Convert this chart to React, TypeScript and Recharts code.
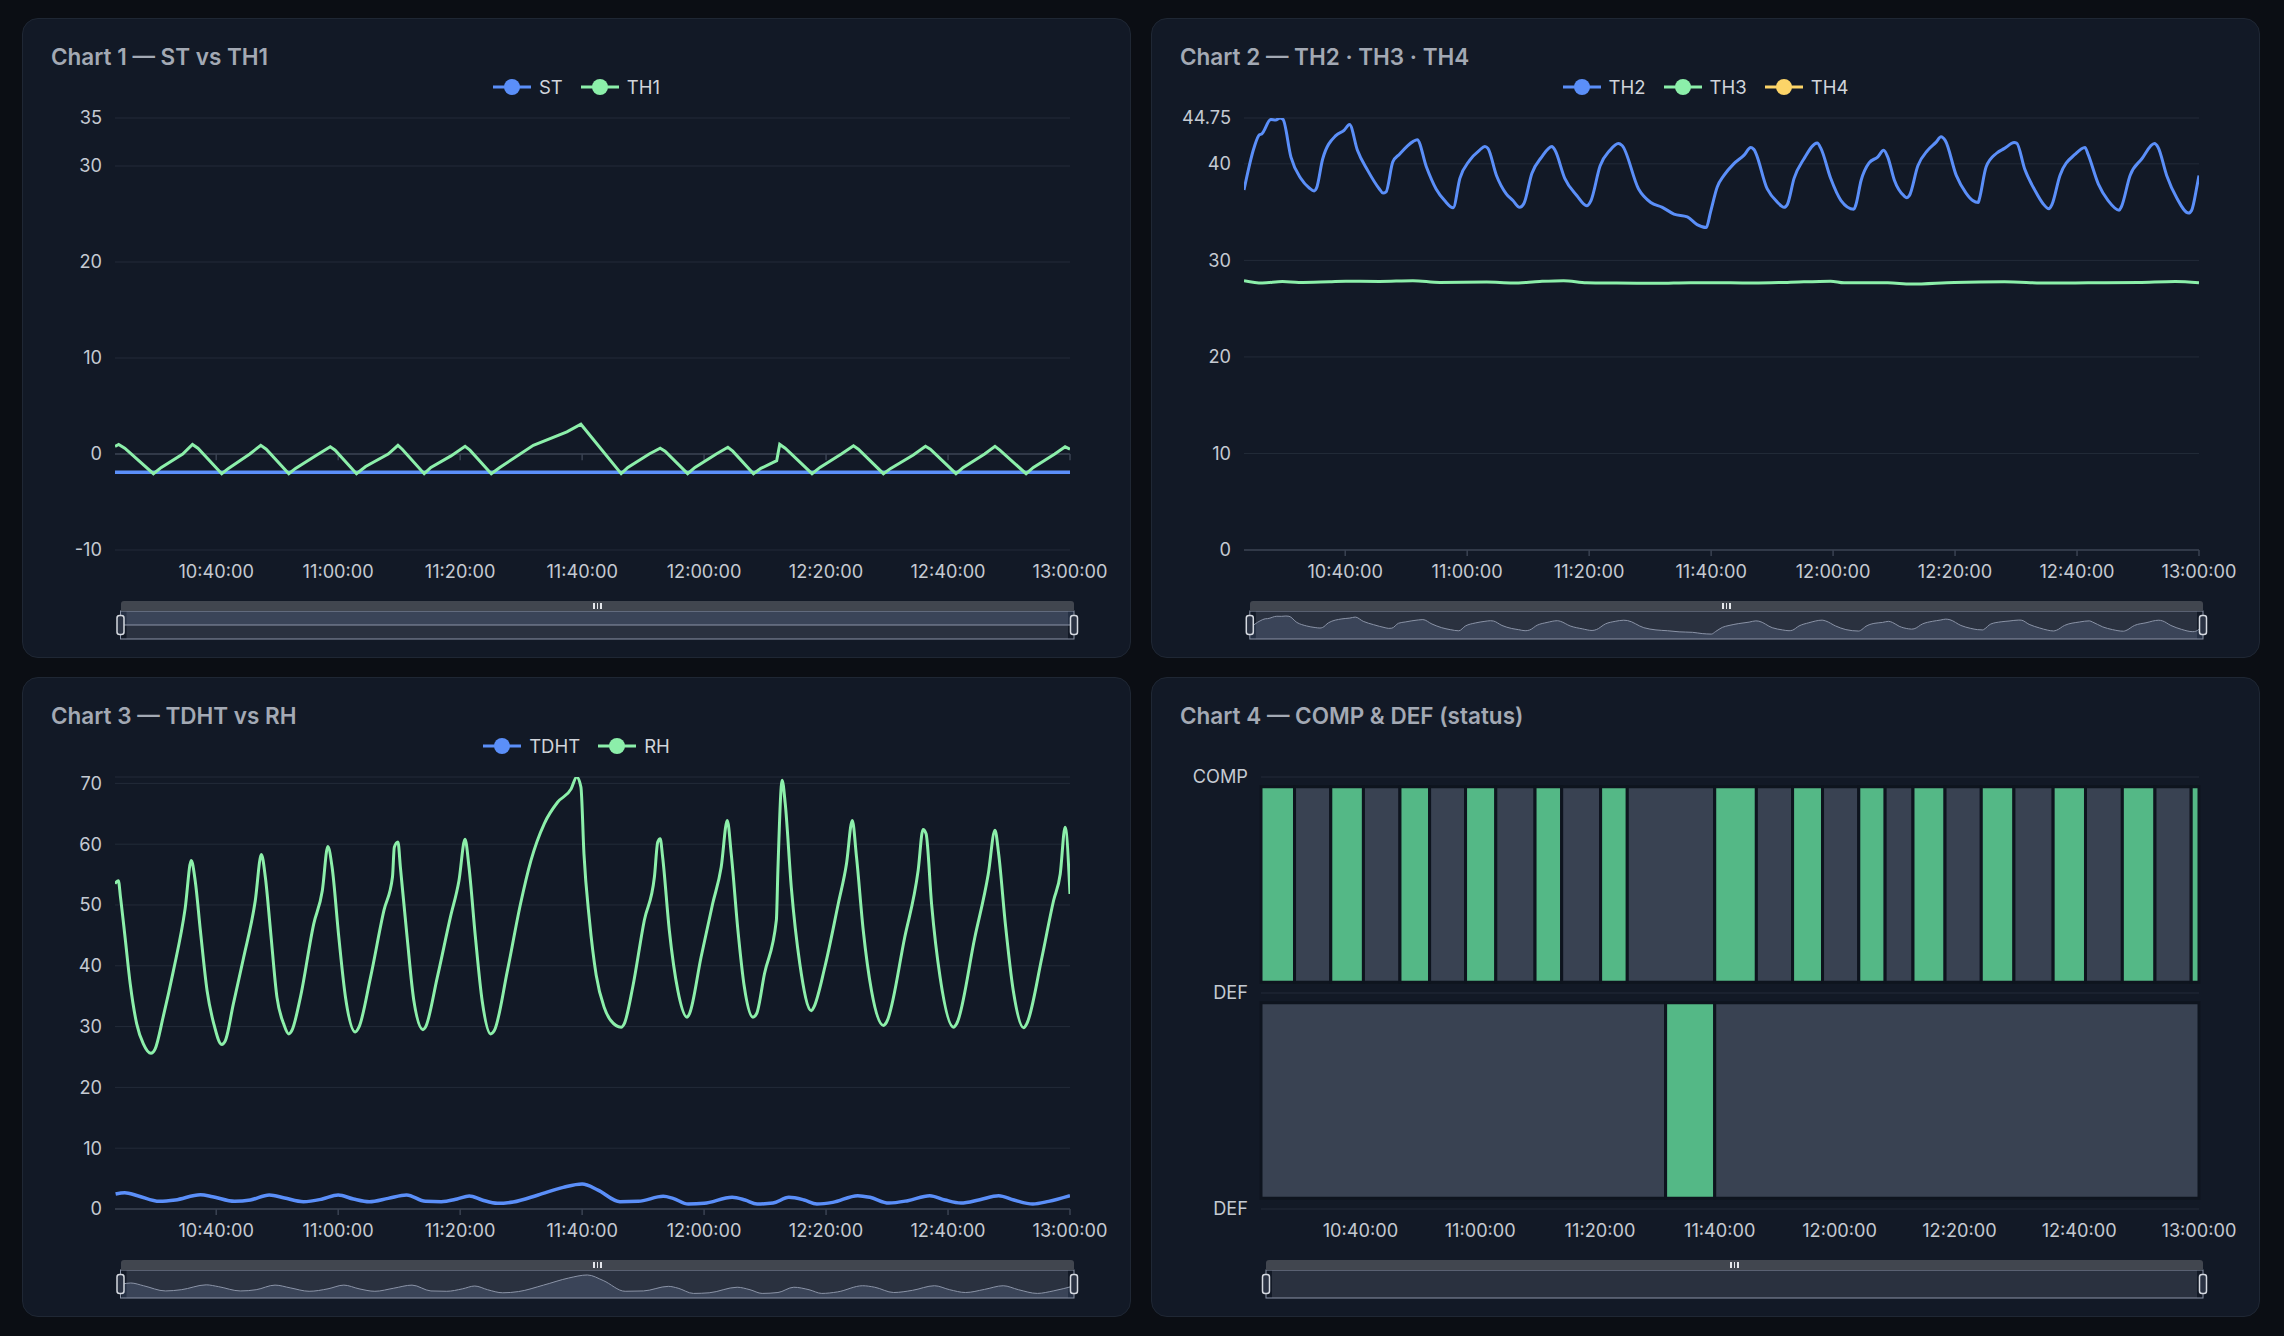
import React from 'react';
import {
  ComposedChart,
  Line,
  Area,
  XAxis,
  YAxis,
  CartesianGrid,
  Brush,
  ReferenceLine,
  ReferenceArea,
} from 'recharts';

// ---------- data (t = minutes after 10:00:00) ----------
const T_MIN = 23.4;
const T_MAX = 180;
const TIME_TICKS = [40, 60, 80, 100, 120, 140, 160, 180];

const CHART1_SERIES = ['ST', 'TH1'];
const CHART2_SERIES = ['TH2', 'TH3', 'TH4'];
const CHART3_SERIES = ['TDHT', 'RH'];

const ST_POINTS: [number, number][] = [
  [23.4, -1.9],
  [180, -1.9],
];

const TH1_POINTS: [number, number][] = [
  [23.4, 0.8], [24.0, 1.0], [25.0, 0.6], [29.7, -2.05], [31.0, -1.4], [34.5, 0.0], [36.1, 1.0],
  [37.0, 0.6], [40.9, -2.05], [42.0, -1.5], [45.5, 0.0], [47.3, 0.9], [48.2, 0.5], [51.9, -2.05],
  [53.0, -1.5], [56.5, -0.1], [58.7, 0.75], [59.5, 0.4], [63.0, -2.05], [64.5, -1.3], [68.2, 0.0],
  [69.8, 0.9], [70.5, 0.5], [74.1, -2.05], [75.2, -1.4], [78.5, -0.2], [80.8, 0.8], [81.6, 0.4],
  [85.1, -2.05], [86.5, -1.4], [92.0, 0.9], [97.5, 2.3], [99.8, 3.1], [106.4, -2.05], [107.5, -1.4],
  [111.0, 0.0], [112.8, 0.6], [113.6, 0.3], [117.3, -2.05], [118.5, -1.4], [122.0, 0.0], [123.9, 0.7],
  [124.7, 0.3], [128.1, -2.05], [129.3, -1.5], [131.9, -0.7], [132.4, 1.0], [133.3, 0.6], [137.7, -2.05],
  [139.0, -1.4], [142.5, 0.0], [144.5, 0.85], [145.3, 0.5], [149.4, -2.05], [150.6, -1.5], [154.3, -0.1],
  [156.3, 0.8], [157.1, 0.5], [161.3, -2.05], [162.5, -1.4], [166.0, 0.0], [167.7, 0.8], [168.5, 0.4],
  [172.8, -2.05], [174.0, -1.4], [177.5, 0.0], [179.2, 0.75], [180.0, 0.5],
];

const TH2_POINTS: [number, number][] = [
  [23.4, 37.3], [25.06, 41.7], [25.9, 43.0], [26.3, 43.1], [27.8, 44.6], [28.6, 44.55], [29.3, 44.75],
  [29.8, 44.6], [31.1, 40.7], [32.7, 38.5], [34.1, 37.5], [34.9, 37.2], [35.3, 37.5], [36.3, 40.5],
  [38.5, 42.95], [39.8, 43.46], [40.7, 44.08], [42.0, 41.4], [43.7, 39.3], [45.6, 37.4], [46.2, 36.97],
  [46.7, 37.1], [47.8, 40.2], [48.9, 41.0], [51.1, 42.3], [51.8, 42.5], [53.3, 39.7], [54.9, 37.4],
  [56.3, 36.2], [57.7, 35.45], [58.8, 38.5], [60.4, 40.36], [62.0, 41.4], [62.9, 41.8], [63.4, 41.6],
  [64.8, 38.8], [66.4, 36.9], [67.5, 36.2], [68.6, 35.5], [69.3, 35.9], [70.6, 39.0], [72.2, 40.7],
  [73.9, 41.8], [74.4, 41.4], [76.0, 38.5], [78.0, 36.7], [79.6, 35.66], [80.3, 36.2], [81.8, 39.8],
  [83.4, 41.4], [84.8, 42.1], [85.4, 41.9], [88.1, 37.4], [90.1, 36.0], [92.0, 35.5], [93.9, 34.8],
  [96.1, 34.5], [97.7, 33.7], [99.2, 33.4], [99.9, 35.0], [101.0, 37.6], [102.1, 38.8], [103.7, 40.0],
  [105.4, 40.9], [106.5, 41.7], [107.0, 41.5], [109.2, 37.4], [110.9, 36.0], [111.96, 35.5], [112.5, 35.8],
  [113.6, 38.5], [115.2, 40.5], [117.4, 42.15], [118.0, 41.6], [119.6, 38.5], [121.3, 36.2], [123.4, 35.3],
  [123.7, 35.7], [124.6, 38.3], [125.9, 40.1], [127.3, 40.7], [128.3, 41.4], [128.96, 40.7], [130.05, 38.3],
  [131.6, 36.7], [132.1, 36.5], [132.5, 36.7], [133.9, 39.8], [135.5, 41.4], [136.9, 42.25], [137.7, 42.8],
  [138.4, 42.4], [140.2, 38.8], [141.8, 36.97], [142.9, 36.2], [143.8, 36.0], [144.0, 36.4], [145.1, 39.7],
  [146.8, 41.1], [148.1, 41.6], [149.7, 42.2], [150.1, 42.15], [151.4, 39.5], [153.1, 37.25], [154.4, 35.9],
  [155.4, 35.35], [155.9, 35.8], [157.2, 38.8], [159.7, 41.0], [161.3, 41.7], [161.8, 41.0], [163.5, 37.9],
  [165.1, 36.2], [166.9, 35.2], [167.3, 35.6], [168.7, 38.8], [170.6, 40.5], [172.7, 42.1], [173.3, 41.7],
  [174.7, 38.8], [176.4, 36.4], [178.3, 34.9], [178.8, 35.2], [179.7, 37.8], [180.0, 38.8],
];

const TH3_POINTS: [number, number][] = [
  [23.4, 27.9], [26.4, 27.65], [29.7, 27.82], [32.4, 27.72], [37.4, 27.8], [40.1, 27.85], [45.6, 27.82],
  [51.1, 27.9], [55.5, 27.72], [63.2, 27.75], [67.5, 27.65], [71.9, 27.82], [75.8, 27.9], [79.6, 27.68],
  [84.5, 27.65], [91.1, 27.62], [96.6, 27.68], [103.2, 27.68], [107.0, 27.65], [112.5, 27.72], [119.6, 27.85],
  [121.8, 27.68], [128.96, 27.68], [132.8, 27.55], [139.9, 27.72], [148.1, 27.78], [155.3, 27.65],
  [161.8, 27.68], [170.1, 27.72], [176.1, 27.82], [180.0, 27.68],
];

const TH4_POINTS: [number, number][] = [];

const TDHT_POINTS: [number, number][] = [
  [23.5, 2.46], [25.0, 2.68], [27.1, 2.19], [30.7, 1.26], [33.3, 1.48], [37.4, 2.35], [39.4, 2.03],
  [43.0, 1.26], [45.6, 1.48], [48.7, 2.3], [51.2, 1.81], [54.3, 1.2], [57.4, 1.64], [60.0, 2.3],
  [62.5, 1.64], [65.1, 1.2], [68.2, 1.75], [71.2, 2.3], [74.3, 1.26], [76.9, 1.2], [79.5, 1.64],
  [81.5, 2.14], [83.6, 1.48], [86.1, 0.93], [88.7, 1.15], [92.8, 2.3], [96.9, 3.56], [100.0, 4.11],
  [102.6, 3.12], [106.2, 1.2], [109.2, 1.26], [113.3, 2.08], [114.9, 1.75], [117.4, 0.82], [120.0, 0.93],
  [124.6, 1.92], [126.7, 1.48], [128.7, 0.82], [131.3, 0.98], [133.9, 1.92], [136.4, 1.48], [138.5, 0.82],
  [141.1, 1.09], [145.2, 2.19], [147.2, 1.92], [150.3, 0.98], [153.4, 1.37], [157.0, 2.19], [159.5, 1.48],
  [162.1, 0.98], [165.2, 1.53], [168.3, 2.19], [170.8, 1.48], [173.9, 0.82], [176.5, 1.26], [180.0, 2.19],
];

const RH_POINTS: [number, number][] = [
  [23.4, 53.5], [23.95, 54.0], [24.3, 51.3], [25.05, 44.7], [25.9, 37.0], [26.96, 30.45], [28.05, 27.16],
  [29.3, 25.6], [29.97, 26.3], [31.3, 31.6], [32.98, 39.2], [34.9, 49.4], [35.9, 57.3], [36.55, 54.0],
  [37.4, 45.8], [38.5, 35.9], [39.6, 30.45], [40.9, 27.05], [41.5, 27.7], [42.8, 33.7], [44.5, 41.4],
  [46.4, 50.7], [47.4, 58.3], [48.05, 54.6], [48.9, 45.8], [49.96, 34.8], [51.06, 30.45], [51.9, 28.8],
  [52.4, 29.35], [53.8, 34.8], [55.99, 46.9], [57.4, 52.4], [58.3, 59.6], [59.0, 56.2], [60.1, 44.7],
  [61.2, 34.8], [62.8, 29.1], [63.4, 29.9], [65.3, 38.1], [67.5, 49.1], [68.9, 54.6], [69.2, 59.5],
  [69.8, 60.35], [70.2, 56.2], [71.3, 44.7], [72.4, 34.3], [73.9, 29.5], [74.3, 29.9], [76.25, 38.1],
  [78.4, 48.0], [79.8, 54.0], [80.8, 60.8], [81.45, 56.2], [82.5, 44.7], [83.6, 34.3], [85.0, 28.8],
  [85.6, 29.35], [87.75, 39.2], [89.9, 50.2], [91.6, 57.3], [93.8, 63.4], [95.97, 66.9], [98.2, 69.1],
  [99.1, 71.05], [99.8, 69.4], [100.3, 58.4], [101.2, 47.5], [102.3, 38.5], [103.6, 33.2], [104.7, 31.0],
  [106.4, 29.9], [106.9, 30.45], [108.3, 36.5], [110.2, 47.5], [111.85, 54.6], [112.4, 60.35], [112.8, 60.9],
  [113.2, 57.9], [114.3, 45.8], [115.7, 35.9], [117.2, 31.55], [117.6, 32.1], [119.5, 41.4], [121.4, 50.2],
  [122.8, 56.2], [123.8, 63.9], [124.45, 58.4], [125.55, 45.8], [126.6, 36.5], [128.0, 31.55], [128.6, 32.1],
  [129.9, 38.7], [131.85, 47.5], [132.1, 55.7], [132.8, 70.5], [133.3, 66.7], [134.3, 52.9], [135.7, 40.3],
  [137.6, 32.6], [138.0, 33.2], [139.8, 39.8], [142.0, 50.2], [143.35, 56.8], [144.3, 63.9], [144.99, 57.9],
  [146.1, 45.8], [147.45, 35.9], [149.4, 30.2], [149.9, 30.7], [152.9, 44.7], [155.1, 55.7], [155.9, 62.4],
  [156.4, 61.7], [157.3, 50.2], [158.7, 38.1], [160.9, 29.9], [161.4, 30.45], [164.4, 44.7], [166.6, 55.1],
  [167.7, 62.3], [168.3, 58.4], [169.4, 46.9], [170.7, 35.9], [172.4, 29.8], [172.9, 30.45], [175.4, 41.4],
  [177.3, 50.7], [178.4, 55.1], [179.2, 62.8], [180.0, 51.8],
];

// [start, end, state] state 1 = on (green), 0 = off (gray)
const COMP_SEGMENTS: [number, number, number][] = [
  [23.4, 29.0, 1], [29.0, 35.05, 0], [35.05, 40.5, 1], [40.5, 46.6, 0], [46.6, 51.55, 1], [51.55, 57.55, 0],
  [57.55, 62.6, 1], [62.6, 69.15, 0], [69.15, 73.6, 1], [73.6, 80.1, 0], [80.1, 84.55, 1], [84.55, 99.15, 0],
  [99.15, 106.1, 1], [106.1, 112.15, 0], [112.15, 117.15, 1], [117.15, 123.2, 0], [123.2, 127.6, 1],
  [127.6, 132.25, 0], [132.25, 137.6, 1], [137.6, 143.65, 0], [143.65, 149.1, 1], [149.1, 155.65, 0],
  [155.65, 161.05, 1], [161.05, 167.2, 0], [167.2, 172.65, 1], [172.65, 178.7, 0], [178.7, 180.0, 1],
];
const DEF_SEGMENTS: [number, number, number][] = [
  [23.4, 90.95, 0], [90.95, 99.15, 1], [99.15, 180.0, 0],
];

const Y1_TICKS = [-10, 0, 10, 20, 30, 35];
const Y2_TICKS = [0, 10, 20, 30, 40, 44.75];
const Y3_TICKS = [0, 10, 20, 30, 40, 50, 60, 70, 71.05];
const Y4_TICKS = [0, 1, 2];
const Y4_LABELS = ['DEF', 'DEF', 'COMP'];

// ---------- styling ----------
const BLUE = '#5b8ff9';
const GREEN = '#8cefaa';
const YELLOW = '#fcd468';
const ON_COLOR = '#54b886';
const OFF_COLOR = '#394252';
const SERIES_COLORS: Record<string, string> = {
  ST: BLUE, TH1: GREEN, TH2: BLUE, TH3: GREEN, TH4: YELLOW, TDHT: BLUE, RH: GREEN,
};

const PAGE_BG = '#0b0e14';
const PANEL_BG = '#121926';
const PANEL_BORDER = '#1f2734';
const GRID = '#232b39';
const AXIS = '#3a4252';
const TICK_TEXT = '#c5cad2';
const FONT = 'Inter, "Noto Sans", "Liberation Sans", sans-serif';

const PW = 1109;
const PH = 640;
const MARGIN = { top: 100, right: 61, bottom: 50, left: 0 };
const BRUSH_Y = 593;
const BRUSH_H = 28;

const rows = (pts: [number, number][]) => pts.map(([t, v]) => ({ t, v }));
const pad = (n: number) => String(n).padStart(2, '0');
const fmtTime = (t: number) => {
  const total = Math.round(t * 60);
  const h = 10 + Math.floor(total / 3600);
  const m = Math.floor((total % 3600) / 60);
  const s = total % 60;
  return `${h}:${pad(m)}:${pad(s)}`;
};

const tickStyle = { fill: TICK_TEXT, fontSize: 18.2, fontFamily: FONT };

function makeTraveller(bx: number, bw: number) {
  return (p: any) => {
    const cx = p.x < bx + bw / 2 ? p.x : p.x + p.width;
    return (
      <rect
        x={cx - 3.5}
        y={p.y + p.height / 2 - 9.5}
        width={7}
        height={19}
        rx={2.5}
        fill="#2a3243"
        stroke="#d5d9e0"
        strokeWidth={1.5}
      />
    );
  };
}

function BrushTopBar({ x, w }: { x: number; w: number }) {
  return (
    <div
      style={{
        position: 'absolute',
        left: x,
        top: BRUSH_Y - 10.5,
        width: w,
        height: 10.5,
        background: '#41464f',
        borderRadius: '3px 3px 0 0',
        display: 'flex',
        justifyContent: 'center',
        alignItems: 'center',
        gap: 2,
        pointerEvents: 'none',
      }}
    >
      {[0, 1, 2].map((i) => (
        <div key={i} style={{ width: 1.5, height: 6, background: '#e5e7eb' }} />
      ))}
    </div>
  );
}

function BrushShadow({
  x,
  w,
  points,
  domain,
  type,
}: {
  x: number;
  w: number;
  points: [number, number][];
  domain: [number, number];
  type: 'linear' | 'monotone';
}) {
  return (
    <ComposedChart
      width={w}
      height={BRUSH_H}
      data={rows(points)}
      margin={{ top: 0, right: 0, bottom: 0, left: 0 }}
      style={{ position: 'absolute', left: x, top: BRUSH_Y }}
    >
      <XAxis hide type="number" dataKey="t" domain={[T_MIN, T_MAX]} allowDataOverflow />
      <YAxis hide type="number" domain={domain} allowDataOverflow />
      <Area
        type={type}
        dataKey="v"
        stroke="#8b95a8"
        strokeWidth={1}
        fill="#4e5e81"
        fillOpacity={0.35}
        dot={false}
        activeDot={false}
        isAnimationActive={false}
      />
    </ComposedChart>
  );
}

function LegendRow({ names }: { names: string[] }) {
  return (
    <div
      style={{
        position: 'absolute',
        left: 0,
        top: 60,
        width: PW,
        height: 18,
        display: 'flex',
        justifyContent: 'center',
        alignItems: 'center',
        gap: 18,
        fontFamily: FONT,
        fontSize: 18.5,
        color: '#d1d5db',
      }}
    >
      {names.map((n) => (
        <div key={n} style={{ display: 'flex', alignItems: 'center' }}>
          <svg width={38} height={18}>
            <line x1={0} y1={9} x2={38} y2={9} stroke={SERIES_COLORS[n]} strokeWidth={3} />
            <circle cx={19} cy={9} r={8} fill={SERIES_COLORS[n]} />
          </svg>
          <span style={{ marginLeft: 8, lineHeight: '18px' }}>{n}</span>
        </div>
      ))}
    </div>
  );
}

function Panel({
  left,
  top,
  title,
  children,
}: {
  left: number;
  top: number;
  title: string;
  children: React.ReactNode;
}) {
  return (
    <div
      style={{
        position: 'absolute',
        left,
        top,
        width: PW,
        height: PH,
        boxSizing: 'border-box',
        background: PANEL_BG,
        border: `1px solid ${PANEL_BORDER}`,
        borderRadius: 16,
      }}
    >
      <div style={{ position: 'absolute', left: -1, top: -1, width: PW, height: PH }}>
        <div
          style={{
            position: 'absolute',
            left: 29,
            top: 27,
            fontFamily: FONT,
            fontSize: 22.5,
            fontWeight: 600,
            color: '#a3a9b4',
            lineHeight: '24px',
            whiteSpace: 'nowrap',
          }}
        >
          {title}
        </div>
        {children}
      </div>
    </div>
  );
}

const xAxisCommon = {
  type: 'number' as const,
  dataKey: 't',
  domain: [T_MIN, T_MAX],
  allowDataOverflow: true,
  ticks: TIME_TICKS,
  tickFormatter: fmtTime,
  interval: 0 as const,
  height: 30,
  tickSize: 6,
  tickMargin: 9,
  tick: tickStyle,
};

const yAxisCommon = {
  type: 'number' as const,
  allowDataOverflow: true,
  interval: 0 as const,
  axisLine: false,
  tickLine: false,
  tickSize: 0,
  tickMargin: 13,
  tick: tickStyle,
};

function Chart1() {
  const stRows = rows(ST_POINTS);
  const bx = 98.5;
  const bw = 953.5;
  return (
    <>
      <BrushShadow x={bx} w={bw} points={ST_POINTS} domain={[-2.9, -0.9]} type="linear" />
      <ComposedChart width={PW} height={PH} data={stRows} margin={MARGIN} style={{ position: 'absolute', left: 0, top: 0 }}>
        <CartesianGrid vertical={false} stroke={GRID} />
        <XAxis {...xAxisCommon} axisLine={false} tickLine={false} />
        <YAxis {...yAxisCommon} width={93} domain={[-10, 35]} ticks={Y1_TICKS} />
        <ReferenceLine y={0} stroke={AXIS} strokeWidth={1.5} />
        {TIME_TICKS.map((t) => (
          <ReferenceLine key={t} segment={[{ x: t, y: 0 }, { x: t, y: -0.65 }]} stroke={AXIS} strokeWidth={1.5} />
        ))}
        <Line type="linear" dataKey="v" name="ST" stroke={BLUE} strokeWidth={3.5} dot={false} activeDot={false} isAnimationActive={false} />
        <Line
          type="linear"
          data={rows(TH1_POINTS)}
          dataKey="v"
          name="TH1"
          stroke={GREEN}
          strokeWidth={3}
          dot={false}
          activeDot={false}
          isAnimationActive={false}
        />
        <Brush
          dataKey="t"
          x={bx}
          y={BRUSH_Y}
          width={bw}
          height={BRUSH_H}
          stroke="#8a93a6"
          fill="none"
          travellerWidth={6}
          traveller={makeTraveller(bx, bw)}
        />
      </ComposedChart>
      <LegendRow names={CHART1_SERIES} />
      <BrushTopBar x={bx} w={bw} />
    </>
  );
}

function Chart2() {
  const th2Rows = rows(TH2_POINTS);
  const bx = 98.8;
  const bw = 953.2;
  return (
    <>
      <BrushShadow x={bx} w={bw} points={TH2_POINTS} domain={[30.3, 47.9]} type="monotone" />
      <ComposedChart width={PW} height={PH} data={th2Rows} margin={MARGIN} style={{ position: 'absolute', left: 0, top: 0 }}>
        <CartesianGrid vertical={false} stroke={GRID} />
        <XAxis {...xAxisCommon} axisLine={{ stroke: AXIS, strokeWidth: 1.5 }} tickLine={{ stroke: AXIS, strokeWidth: 1.5 }} />
        <YAxis {...yAxisCommon} width={93} domain={[0, 44.75]} ticks={Y2_TICKS} />
        <Line type="monotone" dataKey="v" name="TH2" stroke={BLUE} strokeWidth={3} dot={false} activeDot={false} isAnimationActive={false} />
        <Line
          type="monotone"
          data={rows(TH3_POINTS)}
          dataKey="v"
          name="TH3"
          stroke={GREEN}
          strokeWidth={3}
          dot={false}
          activeDot={false}
          isAnimationActive={false}
        />
        {TH4_POINTS.length > 0 && (
          <Line
            type="monotone"
            data={rows(TH4_POINTS)}
            dataKey="v"
            name="TH4"
            stroke={YELLOW}
            strokeWidth={3}
            dot={false}
            activeDot={false}
            isAnimationActive={false}
          />
        )}
        <Brush
          dataKey="t"
          x={bx}
          y={BRUSH_Y}
          width={bw}
          height={BRUSH_H}
          stroke="#8a93a6"
          fill="none"
          travellerWidth={6}
          traveller={makeTraveller(bx, bw)}
        />
      </ComposedChart>
      <LegendRow names={CHART2_SERIES} />
      <BrushTopBar x={bx} w={bw} />
    </>
  );
}

function Chart3() {
  const tdRows = rows(TDHT_POINTS);
  const bx = 98.5;
  const bw = 953.5;
  return (
    <>
      <BrushShadow x={bx} w={bw} points={TDHT_POINTS} domain={[0, 5]} type="monotone" />
      <ComposedChart width={PW} height={PH} data={tdRows} margin={MARGIN} style={{ position: 'absolute', left: 0, top: 0 }}>
        <CartesianGrid vertical={false} stroke={GRID} />
        <XAxis {...xAxisCommon} axisLine={{ stroke: AXIS, strokeWidth: 1.5 }} tickLine={{ stroke: AXIS, strokeWidth: 1.5 }} />
        <YAxis
          {...yAxisCommon}
          width={93}
          domain={[0, 71.05]}
          ticks={Y3_TICKS}
          tickFormatter={(v: number) => (v > 70.5 ? '' : String(v))}
        />
        <Line type="monotone" dataKey="v" name="TDHT" stroke={BLUE} strokeWidth={3.5} dot={false} activeDot={false} isAnimationActive={false} />
        <Line
          type="monotone"
          data={rows(RH_POINTS)}
          dataKey="v"
          name="RH"
          stroke={GREEN}
          strokeWidth={3}
          dot={false}
          activeDot={false}
          isAnimationActive={false}
        />
        <Brush
          dataKey="t"
          x={bx}
          y={BRUSH_Y}
          width={bw}
          height={BRUSH_H}
          stroke="#8a93a6"
          fill="none"
          travellerWidth={6}
          traveller={makeTraveller(bx, bw)}
        />
      </ComposedChart>
      <LegendRow names={CHART3_SERIES} />
      <BrushTopBar x={bx} w={bw} />
    </>
  );
}

function Chart4() {
  const data = COMP_SEGMENTS.map(([s]) => ({ t: s }));
  const bx = 115;
  const bw = 937;
  return (
    <>
      <ComposedChart width={PW} height={PH} data={data} margin={MARGIN} style={{ position: 'absolute', left: 0, top: 0 }}>
        <CartesianGrid vertical={false} stroke={GRID} />
        <XAxis {...xAxisCommon} axisLine={false} tickLine={false} />
        <YAxis
          {...yAxisCommon}
          width={110}
          domain={[0, 2]}
          ticks={Y4_TICKS}
          tickFormatter={(v: number) => Y4_LABELS[v] ?? ''}
        />
        {COMP_SEGMENTS.map(([s, e, on], i) => (
          <ReferenceArea
            key={`c${i}`}
            x1={s}
            x2={e}
            y1={1.05}
            y2={1.955}
            fill={on ? ON_COLOR : OFF_COLOR}
            fillOpacity={1}
            stroke="#0e141e"
            strokeWidth={3}
            ifOverflow="visible"
          />
        ))}
        {DEF_SEGMENTS.map(([s, e, on], i) => (
          <ReferenceArea
            key={`d${i}`}
            x1={s}
            x2={e}
            y1={0.05}
            y2={0.955}
            fill={on ? ON_COLOR : OFF_COLOR}
            fillOpacity={1}
            stroke="#0e141e"
            strokeWidth={3}
            ifOverflow="visible"
          />
        ))}
        <Brush
          dataKey="t"
          x={bx}
          y={BRUSH_Y}
          width={bw}
          height={BRUSH_H}
          stroke="#8a93a6"
          fill="none"
          travellerWidth={6}
          traveller={makeTraveller(bx, bw)}
        />
      </ComposedChart>
      <BrushTopBar x={bx} w={bw} />
    </>
  );
}

export default function App() {
  return (
    <div
      style={{
        position: 'fixed',
        left: 0,
        top: 0,
        width: 2284,
        height: 1336,
        background: PAGE_BG,
        overflow: 'hidden',
        fontFamily: FONT,
      }}
    >
      <Panel left={22} top={18} title="Chart 1 — ST vs TH1">
        <Chart1 />
      </Panel>
      <Panel left={1151} top={18} title="Chart 2 — TH2 · TH3 · TH4">
        <Chart2 />
      </Panel>
      <Panel left={22} top={677} title="Chart 3 — TDHT vs RH">
        <Chart3 />
      </Panel>
      <Panel left={1151} top={677} title="Chart 4 — COMP & DEF (status)">
        <Chart4 />
      </Panel>
    </div>
  );
}
